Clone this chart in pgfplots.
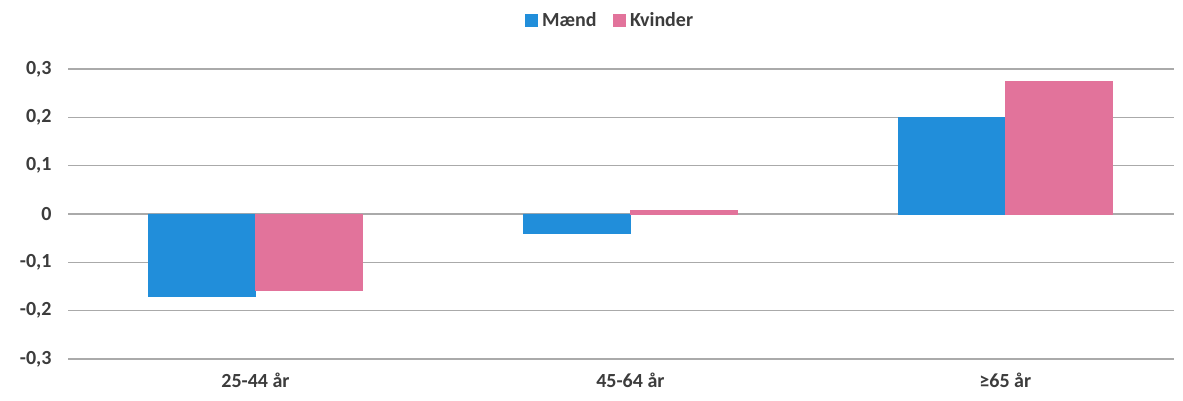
\documentclass[border=0pt]{standalone}
\usepackage{fontspec}
\setmainfont{Carlito}
\usepackage{pgfplots}
\pgfplotsset{compat=1.18}
\definecolor{maend}{RGB}{33,142,218}
\definecolor{kvinder}{RGB}{226,115,155}
\definecolor{txt}{RGB}{60,60,60}
\definecolor{gridc}{RGB}{170,170,170}
\begin{document}
\begin{tikzpicture}[x=1pt,y=1pt]
\path[use as bounding box] (-68,-42) rectangle (1115,359);
\begin{axis}[at={(0,0)}, anchor=south west, scale only axis,
  width=1106pt, height=290pt,
  xmin=-0.5, xmax=2.45, ymin=-0.3, ymax=0.3,
  ybar=0pt, bar width=107pt,
  legend image code/.code={\fill[#1] (0pt,-6pt) rectangle (12pt,6pt);},
  axis line style={draw=none}, tick style={draw=none},
  xtick={0,1,2}, xticklabels={25-44 år, 45-64 år, ≥65 år},
  ytick={-0.3,-0.2,-0.1,0,0.1,0.2,0.3},
  yticklabels={{-0,3},{-0,2},{-0,1},0,{0,1},{0,2},{0,3}},
  ymajorgrids, grid style={gridc, line width=1.4pt},
  tick label style={font=\fontsize{20}{24}\selectfont\bfseries, text=txt},
  yticklabel style={anchor=east, xshift=-13pt},
  xticklabel style={yshift=-6pt},
  legend style={at={(0.49,1.169)}, anchor=center, draw=none, fill=none,
    font=\fontsize{20}{24}\selectfont\bfseries, text=txt, legend columns=2,
    /tikz/every odd column/.append style={column sep=3pt},
    /tikz/every even column/.append style={column sep=14pt}},
]
\addplot[fill=maend, draw=maend] coordinates {(0,-0.17) (1,-0.04) (2,0.2)};
\addplot[fill=kvinder, draw=kvinder] coordinates {(0,-0.157) (1,0.008) (2,0.275)};
\legend{Mænd, Kvinder}
\end{axis}
\end{tikzpicture}
\end{document}
